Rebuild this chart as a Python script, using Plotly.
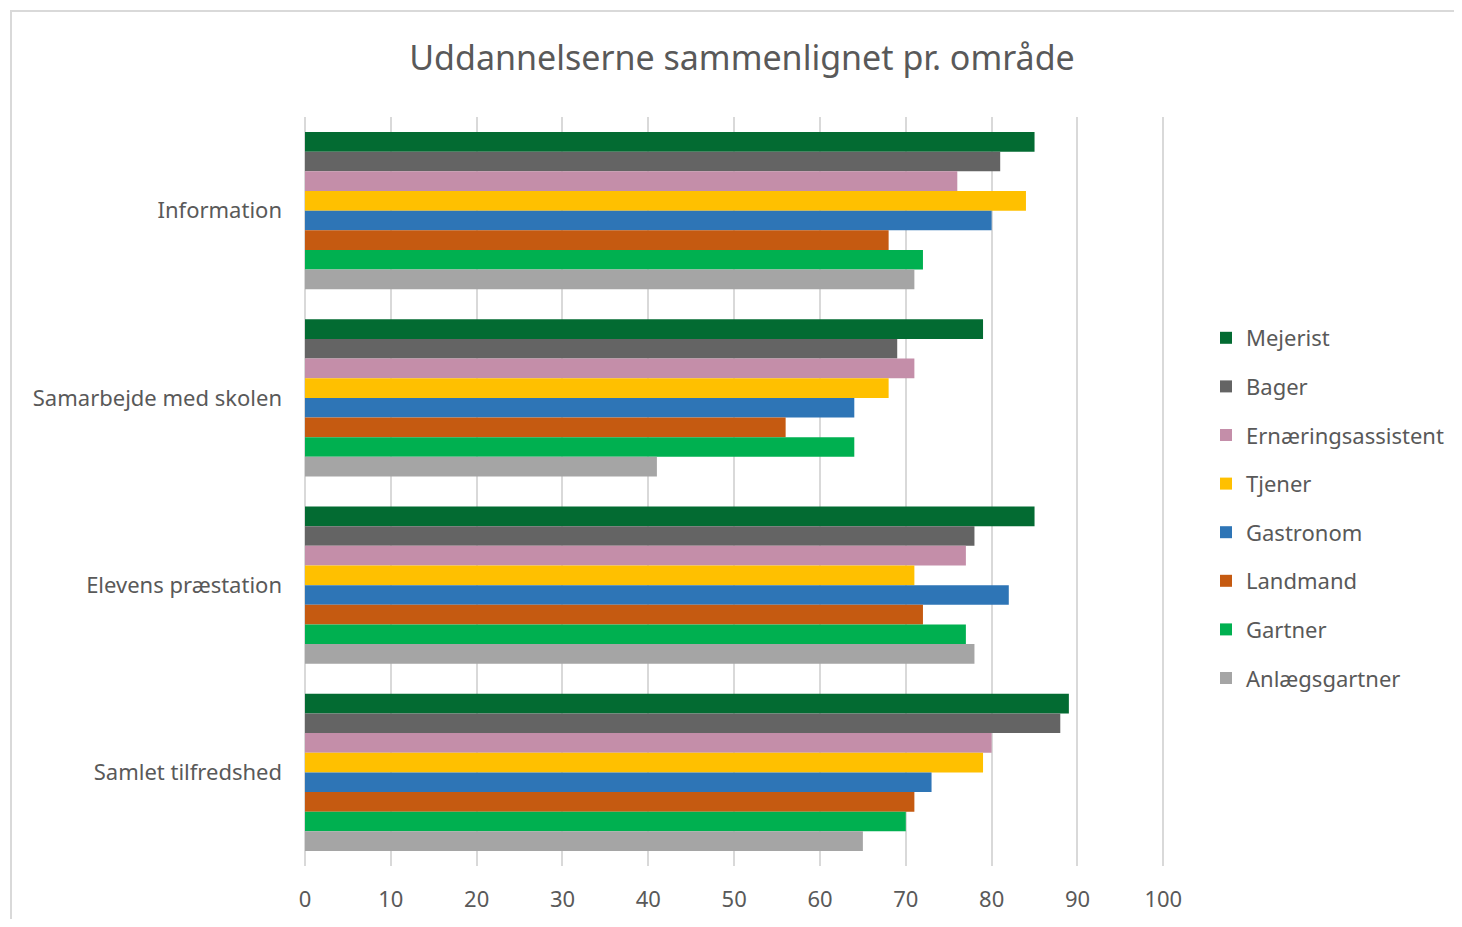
import plotly.graph_objects as go

categories = ["Information", "Samarbejde med skolen", "Elevens præstation", "Samlet tilfredshed"]

series_names = ["Mejerist", "Bager", "Ernæringsassistent", "Tjener",
                "Gastronom", "Landmand", "Gartner", "Anlægsgartner"]

mejerist = [85, 79, 85, 89]
bager = [81, 69, 78, 88]
ernaering = [76, 71, 77, 80]
tjener = [84, 68, 71, 79]
gastronom = [80, 64, 82, 73]
landmand = [68, 56, 72, 71]
gartner = [72, 64, 77, 70]
anlaeg = [71, 41, 78, 65]

series_values = [mejerist, bager, ernaering, tjener, gastronom, landmand, gartner, anlaeg]
colors = ["#036B32", "#646464", "#C48EA9", "#FFC000",
          "#2E75B6", "#C55A11", "#00B050", "#A5A5A5"]

x_ticks = [0, 10, 20, 30, 40, 50, 60, 70, 80, 90, 100]

FONT = "Noto Sans"
TXT = "#595959"

fig = go.Figure()
for name, vals, col in zip(series_names, series_values, colors):
    fig.add_trace(go.Bar(
        y=categories, x=vals, name=name, orientation="h",
        marker=dict(color=col, line=dict(width=0)),
        legendgroup=name,
    ))

W, H = 1446, 911
L, R, T, B = 297, 289, 109, 53
PW = W - L - R
PH = H - T - B

fig.update_layout(
    width=W, height=H,
    margin=dict(l=L, r=R, t=T, b=B, autoexpand=False),
    paper_bgcolor="white", plot_bgcolor="white",
    barmode="group", bargap=0.161, bargroupgap=0,
    font=dict(family=FONT, color=TXT, size=22),
    title=dict(text="Uddannelserne sammenlignet pr. område",
               x=(742 - 8 - L) / PW, xref="paper", xanchor="center",
               y=1 - 50 / H, yanchor="middle",
               font=dict(family=FONT, size=34, color=TXT)),
    legend=dict(x=(1206 - 8 - L) / PW, y=1 - (317 - 8 - T) / PH, xanchor="left", yanchor="top",
                font=dict(family=FONT, size=22, color=TXT),
                tracegroupgap=17, itemwidth=30, bgcolor="rgba(0,0,0,0)"),
    showlegend=True,
)

fig.update_xaxes(range=[0, 100.2], tickvals=x_ticks, ticktext=[str(v) for v in x_ticks],
                 showgrid=True, gridcolor="#D9D9D9", gridwidth=2,
                 zeroline=True, zerolinecolor="#D9D9D9", zerolinewidth=2,
                 showline=False, ticks="", ticklabelstandoff=18,
                 tickfont=dict(family=FONT, size=22, color=TXT), fixedrange=True)
fig.update_yaxes(categoryorder="array", categoryarray=categories, autorange="reversed",
                 showgrid=False, zeroline=False, showline=False, ticks="",
                 ticklabelstandoff=22,
                 tickfont=dict(family=FONT, size=22, color=TXT), fixedrange=True)

# outer border of the chart area
fig.add_shape(type="rect", xref="paper", yref="paper",
              x0=(3 - L) / PW, x1=(W + 20 - L) / PW,
              y0=1 + (T - 3) / PH, y1=-(B + 20) / PH,
              line=dict(color="#D9D9D9", width=2), fillcolor="rgba(0,0,0,0)", layer="below")

fig.write_html("out.html")
